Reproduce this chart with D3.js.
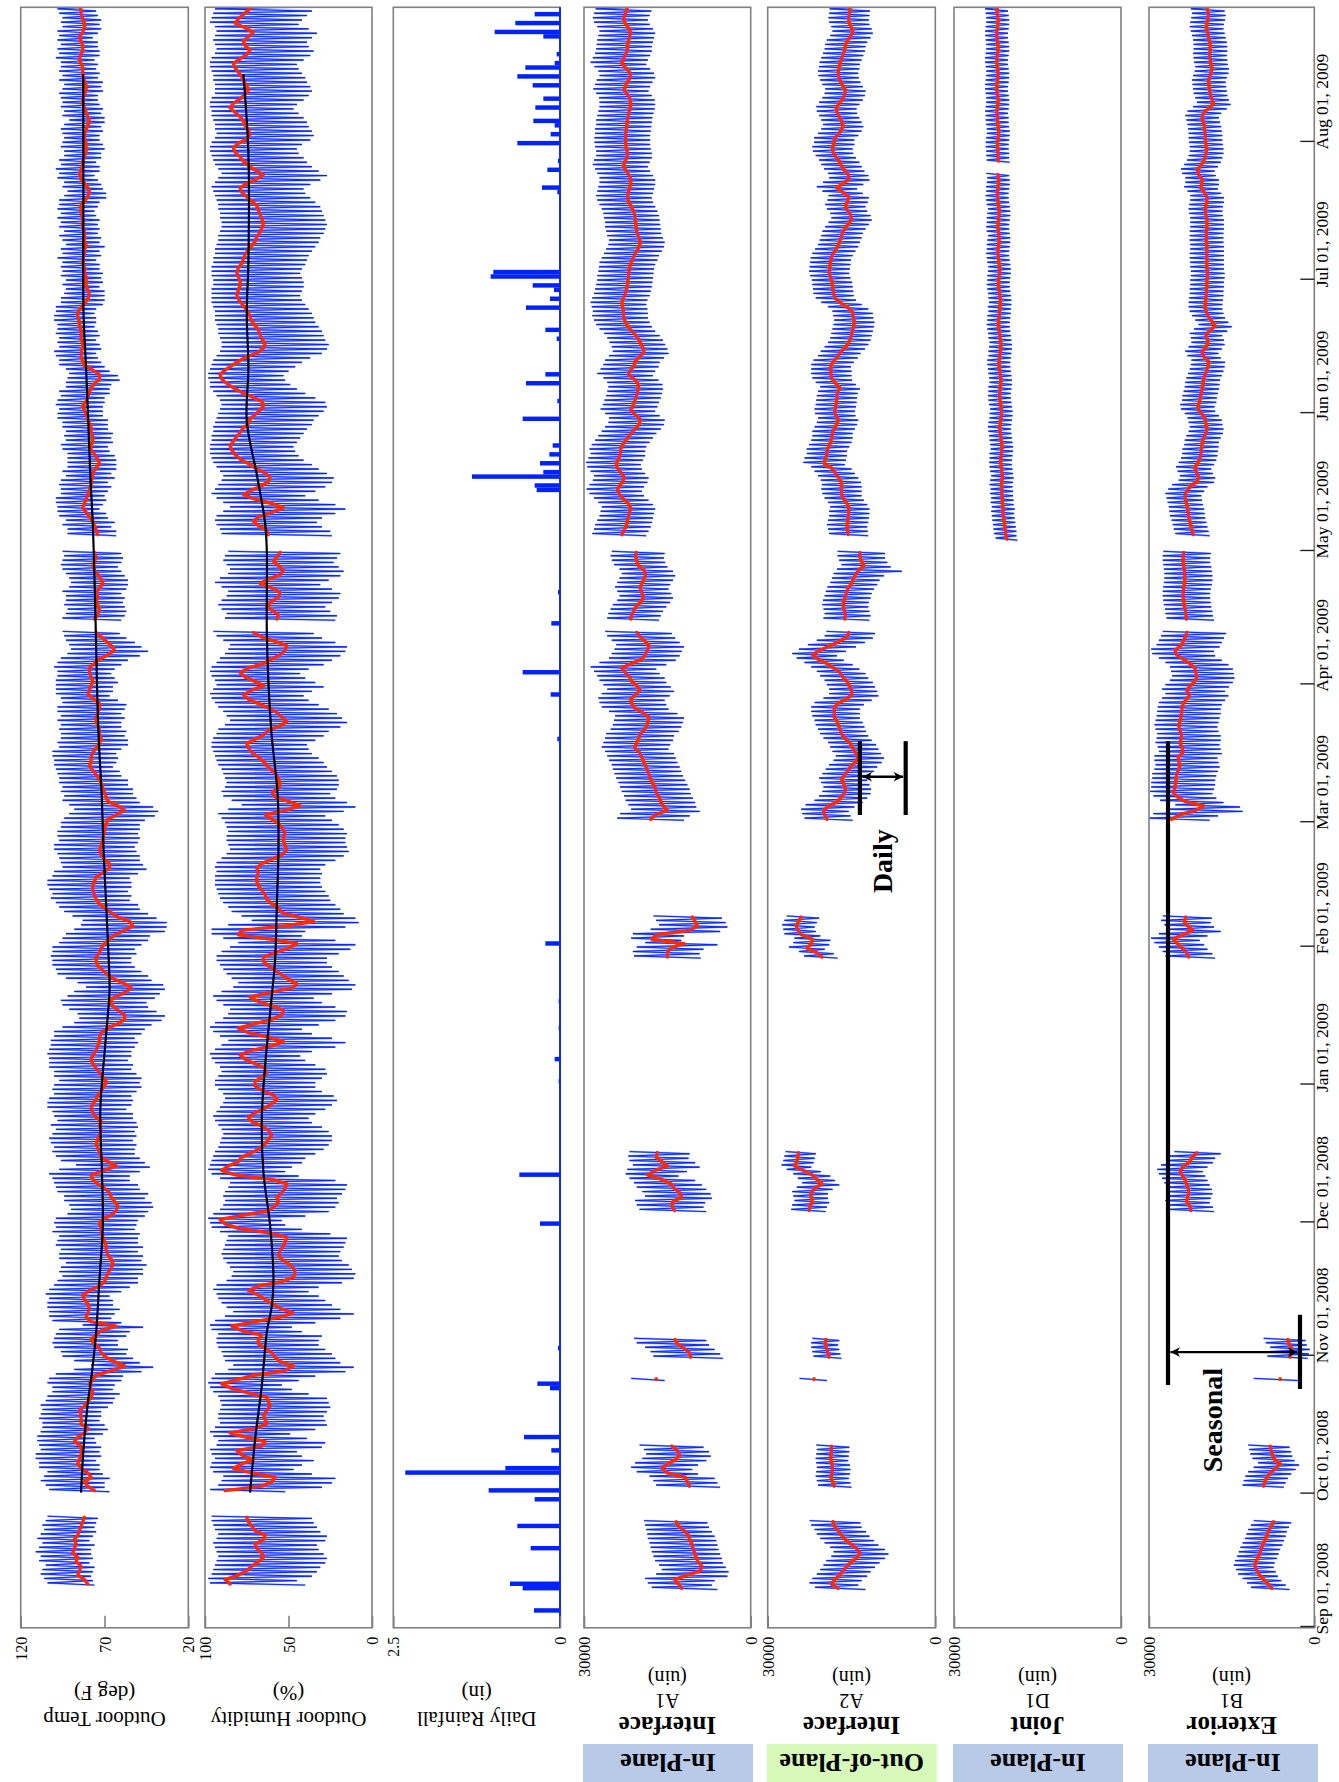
<!DOCTYPE html>
<html>
<head>
<meta charset="utf-8">
<script src="https://cdn.jsdelivr.net/npm/d3@7"></script>
<style>
  body { margin: 0; background: #fff; }
  svg text { font-family: "Liberation Serif", "Times New Roman", serif; fill: #000; }
</style>
</head>
<body>
<svg id="chart" width="1339" height="1782"></svg>
<script>
// day index 0 = Sep 01, 2008. Each segment starts at the day given in *Start.

// ---- Outdoor temperature (deg F): daily mean, daily high, daily low ----
const tempStart = [9, 30, 226, 245];
const tempAvg = [
  [80,82,86,85,84,87,86,89,88,87,88,86,85,84,83,82],
  [76,80,82,78,80,84,86,85,84,84, 84,88,86,82,80,84,84,84,85,82, 80,78,77,78,79,77,75,66,58,64,
   69,72,73,76,78,75,72,63,78,81, 80,79,80,82,83,79,73,70,69,68, 66,65,66,68,69,69,70,71,72,72,
   73,71,66,63,62,64,66,67,70,74, 77,78,70,63,68,72,73,74,75,74, 73,72,73,72,75,77,78,77,75,74,
   72,70,69,71,73,75,77,78,77,75, 74,73,73,72,68,62,58,58,62,65, 67,64,58,54,58,64,68,71,74,75,
   75,73,72,70,67,64,58,53,55,62, 66,70,73,75,76,77,77,76,75,71, 67,67,70,72,73,72,71,71,70,70,
   69,68,63,58,62,68,69,70,71,72, 73,75,77,79,78,78,77,75,73,72, 73,73,74,75,75,74,73,73,76,80,
   79,78,77,78,79,79,76,73,68,64, 66,69,72,75],
  [76,74,73,74,75,74,75,73,71,72,74,76,77,76,75,76],
  [74,75,76,77,79,81,83,82,81,80, 79,78,78,77,77,75,73,74,76,78, 78,77,77,78,78,79,80,81,82,83,
   81,80,79,78,76,73,73,77,82,83, 84,84,83,83,84,84,84,85,85,86, 86,84,82,80,79,80,81,81,81,82,
   82,83,83,82,82,81,82,82,82,83, 83,83,84,84,84,82,80,79,80,82, 84,85,84,83,83,82,81,81,81,82,
   82,81,80,79,80,81,82,83,83,82, 81,81,82,83,83,83,84,85,84,83, 83,84,85,83,82,82,83,84,84,85]
];
const tempHi = [
  [104,106,108,107,105,109,108,111,109,107,110,108,106,107,105,104],
  [103,105,108,106,104,109,109,111,111,108, 109,110,110,108,107,107,109,108,107,108, 105,104,101,101,104,103,99,88,78,88,
   95,96,100,101,100,99,97,83,101,103, 103,104,104,103,105,103,100,98,95,97, 96,93,97,97,96,99,98,97,101,99,
   100,99,92,90,91,94,94,98,99,100, 101,103,97,87,96,99,101,100,102,103, 101,99,102,98,100,101,104,104,103,100,
   101,100,97,100,100,103,103,103,104,103, 102,102,100,100,95,88,85,86,91,95, 96,92,88,81,86,93,98,99,101,101,
   102,101,101,97,95,93,88,84,83,89, 94,97,99,102,101,103,104,104,101,100, 95,96,97,98,100,100,97,98,98,96,
   96,94,91,88,91,95,94,96,95,97, 97,98,99,100,100,101,101,97,98,96, 96,97,96,98,96,98,98,95,96,99,
   99,99,99,98,98,100,98,96,92,90, 91,93,94,95],
  [95,93,92,94,93,93,95,91,90,91,93,95,96,95,94,95],
  [92,92,95,93,97,98,98,99,99,96, 96,97,96,93,95,92,92,92,92,95, 96,93,94,93,95,95,98,98,97,99,
   98,96,97,93,93,92,91,93,97,97, 99,100,97,98,97,99,98,98,100,100, 99,99,96,96,94,93,95,93,96,95,
   96,95,98,95,96,93,95,97,94,97, 96,98,96,98,97,97,94,92,95,94, 98,97,99,96,97,94,94,96,95,94,
   95,96,94,91,95,94,96,95,96,97, 95,94,97,95,97,96,96,99,97,98, 96,98,97,98,95,96,95,97,98,97]
];
const tempLo = [
  [76,77,78,77,76,79,77,78,78,76,79,77,75,76,75,74],
  [67,70,70,67,71,73,73,75,72,73, 72,75,76,71,68,70,73,72,72,68, 65,64,61,65,64,60,59,48,41,49,
   53,57,56,62,62,57,55,47,60,66, 64,61,65,65,67,60,55,50,50,47, 47,45,48,47,50,47,50,50,49,52,
   51,50,46,44,41,42,46,44,49,50, 55,55,49,43,46,49,52,52,51,53, 51,52,50,51,53,53,57,54,53,54,
   51,48,49,48,51,54,53,56,54,54, 52,50,52,48,46,42,36,34,39,44, 45,40,37,34,35,42,44,48,52,54,
   54,51,52,48,44,43,34,33,33,39, 44,49,50,55,54,56,54,54,55,50, 45,47,49,49,51,52,50,49,50,49,
   49,46,40,38,41,49,51,53,53,56, 56,60,61,65,63,62,63,60,56,56, 58,57,60,60,58,60,58,57,62,67,
   65,65,62,64,66,64,60,56,49,44, 48,52,57,61],
  [60,58,57,58,59,58,60,57,56,56,58,60,62,60,59,60],
  [63,63,66,64,68,69,73,71,69,70, 68,66,68,64,66,63,63,63,64,67, 68,65,66,65,68,68,68,71,71,71,
   70,70,67,67,66,61,62,67,70,72, 74,75,72,73,75,73,74,76,75,75, 76,75,71,70,70,70,73,71,72,71,
   73,73,75,72,73,70,73,72,74,73, 74,73,75,76,74,73,69,69,71,72, 74,76,73,73,75,72,72,70,71,73,
   73,71,72,70,70,72,71,73,74,74, 71,72,71,74,73,75,74,76,73,73, 74,74,77,74,72,73,72,74,75,75]
];
const tempTrendDay = [30,40,50,57,66,78,90,102,116,131,143,150,162,174,187,200,212,224,236,248,259,271,283,295,322,349];
const tempTrend = [84,82.5,80,77.5,75,73,71,71.5,72.5,69.5,67,67.5,69,70.5,71.7,73.5,74.5,75.2,76,77,78.5,79.7,81,82.5,82.6,82.7];
const tempTicks = [120, 70, 20];
const tempTitle = ["Outdoor Temp", "(deg F)"];

// ---- Outdoor humidity (%) ----
const humStart = [9, 30, 226, 245];
const humAvg = [
  [85,88,80,75,72,68,65,66,69,70,65,64,70,72,74,75],
  [88,66,60,58,72,83,78,71,78,81, 66,64,75,85,70,63,64,65,63,61, 62,63,74,84,90,80,70,52,47,55,
   58,60,64,68,68,66,78,84,70,55, 47,55,60,64,68,74,68,54,47,46, 47,50,54,56,55,53,52,51,62,80,
   88,91,76,62,58,56,57,54,52,51, 60,82,90,86,80,78,72,67,64,62, 60,62,66,72,74,70,64,60,57,59,
   66,70,70,66,63,64,70,76,79,72, 60,53,62,74,80,70,60,54,53,60, 68,73,62,48,45,50,54,58,62,65,
   65,58,50,45,60,80,78,52,35,44, 54,56,60,63,64,66,68,69,69,68, 69,66,60,54,51,52,53,53,52,54,
   56,60,64,52,43,50,58,60,56,55, 56,57,60,63,65,68,72,74,75,70, 65,62,55,51,54,57,62,68,74,77,
   72,65,70,76,79,74,65,60,55,52, 51,58,66,71],
  [57,56,60,63,60,56,55,60,67,62,55,53,56,59,57,55],
  [62,63,68,71,68,60,53,60,70,77, 72,66,62,61,65,70,74,79,82,84, 85,83,81,79,77,74,73,70,67,65,
   66,72,78,83,87,90,91,88,84,80, 75,68,65,64,66,67,68,70,72,73, 74,76,78,80,81,80,79,79,80,81,
   80,78,77,76,74,72,70,69,67,66, 65,66,67,68,69,72,75,78,79,75, 69,65,70,74,77,79,82,83,80,75,
   73,74,76,77,79,82,85,83,79,76, 74,75,77,78,80,82,83,79,75,73, 76,77,74,71,76,82,80,77,74,71]
];
const humHi = [
  [97,98,96,95,94,93,92,93,94,95,93,92,94,95,96,96],
  [97,92,90,89,95,97,96,94,96,97, 93,92,95,97,94,91,92,92,91,90, 91,92,95,97,98,96,94,86,83,88,
   89,90,92,93,93,92,96,97,94,88, 83,87,90,92,93,95,93,87,84,83, 85,87,89,90,89,88,87,86,91,96,
   97,98,95,91,89,88,89,88,86,85, 91,96,98,97,96,95,94,92,91,90, 89,90,92,94,95,93,91,89,88,89,
   92,94,94,92,90,91,94,96,97,94, 90,86,91,95,97,94,89,86,85,89, 93,95,90,83,80,84,87,89,91,93,
   93,90,85,80,89,96,96,86,72,78, 84,86,89,91,92,93,94,94,94,93, 94,93,90,87,85,86,87,87,86,87,
   88,90,92,86,78,84,89,90,88,87, 88,89,90,92,93,94,95,96,96,95, 93,92,88,85,87,89,92,94,96,97,
   95,93,94,96,97,96,93,91,88,86, 85,89,93,95],
  [88,87,90,92,90,87,86,90,94,91,86,85,87,89,88,86],
  [90,91,93,94,93,89,85,89,93,96, 94,92,90,89,91,93,95,96,97,97, 97,96,96,95,95,94,93,92,91,90,
   91,93,95,97,97,98,98,97,96,95, 93,91,90,90,91,92,92,93,94,94, 94,95,96,96,96,96,95,95,96,96,
   96,95,95,94,94,93,92,92,91,90, 90,91,91,92,92,93,94,95,96,94, 92,90,92,94,95,96,97,97,96,94,
   93,94,94,95,96,96,97,97,96,94, 94,94,95,95,96,97,97,96,94,93, 94,95,94,93,94,97,96,95,94,93]
];
const humLo = [
  [40,45,36,33,31,28,27,29,32,33,28,27,31,33,35,36],
  [52,30,24,22,36,47,42,35,42,45, 30,28,39,49,34,27,28,29,27,25, 26,27,38,48,54,44,34,16,11,19,
   22,24,28,32,32,30,42,48,34,19, 11,19,24,28,32,38,32,18,11,10, 12,14,18,20,19,17,16,15,25,42,
   52,54,40,26,22,20,21,18,16,15, 22,44,52,48,42,40,34,29,26,24, 24,26,30,36,38,34,28,24,21,23,
   30,34,34,30,27,28,34,40,43,36, 22,16,24,36,42,32,22,16,15,22, 30,35,24,12,10,14,17,20,24,27,
   27,20,13,10,22,42,40,16,8,10, 17,19,22,25,26,28,30,31,31,30, 31,28,22,17,14,15,16,16,15,17,
   20,24,28,17,10,15,22,25,21,20, 20,21,24,27,29,32,36,38,39,34, 29,26,19,15,18,21,26,32,38,41,
   36,29,34,40,43,38,29,24,19,16, 15,22,30,35],
  [22,21,25,28,24,20,19,24,31,26,19,17,20,23,21,19],
  [24,25,30,33,30,22,16,22,32,40, 34,28,24,23,27,32,36,41,44,46, 47,45,43,41,39,36,35,32,29,27,
   28,34,40,45,49,52,53,50,46,42, 37,30,27,26,28,29,30,32,34,35, 36,38,40,42,43,42,41,41,42,43,
   42,40,39,38,36,34,32,31,29,28, 27,28,29,30,31,34,37,40,41,37, 31,27,32,36,39,41,44,45,42,37,
   35,36,38,39,41,44,47,45,41,38, 36,37,39,40,42,44,45,41,37,35, 38,39,36,33,38,44,42,39,36,33]
];
const humTrendDay = [30,42,54,66,72,78,90,102,114,126,138,150,162,175,187,200,212,224,242,248,259,271,283,295,307,331,349];
const humTrend = [73,70,66,63,60,59,61,65,66,64,61,58,57,56,56.5,60,62,63,63,64,69,75,74,75,74,74,77];
const humTicks = [100, 50, 0];
const humTitle = ["Outdoor Humidity", "(%)"];

// ---- Daily rainfall (in) ----
const rainDay = [3,8,9,17,22,28,30,34,35,39,42,53,54,62,90,101,122,127,134,140,153,199,209,214,225,232,
  255,256,258,259,261,263,265,271,275,279,281,289,291,296,298,300,301,303,304,322,323,327,329,333,335,
  337,338,341,343,346,348,350,351,353,357,358,360,362];
const rainIn = [0.39,0.56,0.75,0.44,0.64,0.38,1.07,2.32,0.82,0.13,0.54,0.15,0.34,0.03,0.30,0.61,0.02,0.08,0.02,0.02,0.22,0.04,0.14,0.56,0.13,0.03,
  0.35,0.38,1.32,0.25,0.30,0.16,0.11,0.56,0.04,0.51,0.22,0.05,0.22,0.51,0.15,0.09,0.41,1.04,1.00,0.04,0.27,0.19,0.03,0.64,0.14,
  0.08,0.40,0.37,0.25,0.41,0.64,0.52,0.08,0.05,0.25,0.98,0.67,0.38];
const rainTicks = [2.5, 0];
const rainTitle = ["Daily Rainfall", "(in)"];

// ---- Strain gauges, values in hundreds of micro-inches ----
const strainStart = [8, 31, 55, 60, 93, 150, 181, 226, 245];
const strainTicks = [30000, 0];

const a1Avg = [
  [124,130,137,115,90,88,95,98,101,104,106,110,112,120,130,134],
  [110,114,118,150,160,150,135,128,132,142],
  [170],
  [108,110,120,132,136],
  [137,142,140,124,128,138,144,160,186,172,150,160,170,168],
  [150,150,144,120,178,170,110,96,100,105],
  [180,172,150,158,162,165,170,172,176,180, 183,186,189,193,196,200,209,206,202,200,
   192,187,185,183,195,209,214,216,208,199, 205,214,218,226,232,215,196,190,186,183, 190,199,205],
  [216,214,210,205,197,193,196,199,196,192,189,192,202,205,207,206],
  [232,228,224,222,220,218,216,220,229,236, 240,236,230,228,234,240,242,238,235,234, 232,226,220,214,206,200,199,208,216,212,
   209,206,204,202,203,210,220,216,210,208, 200,192,194,198,202,208,216,222,226,229, 229,230,232,230,226,224,222,221,220,219,
   218,216,212,209,204,200,199,202,205,206, 207,208,209,212,216,220,222,220,218,216, 216,220,225,229,226,222,222,224,225,225,
   225,224,223,222,221,219,217,216,217,222, 228,225,221,216,218,225,232,229,225,222, 222,220,218,216,220,226,229,226,223,222]
];
const a1Max = [
  [178,185,190,170,160,165,172,175,178,180,182,185,186,188,190,192],
  [170,175,182,205,215,208,195,188,192,200],
  [215],
  [175,180,190,205,210],
  [200,205,208,190,195,205,210,218,225,222,212,218,220,218],
  [210,212,205,190,215,212,180,165,170,175],
  [240,235,215,220,225,228,232,235,238,242, 245,248,250,255,258,262,268,265,262,260,
   252,248,246,244,255,268,272,274,268,258, 265,272,276,282,288,272,255,250,245,242, 250,258,262],
  [258,256,252,248,240,236,240,244,240,236,232,236,246,250,252,250],
  [285,282,280,276,272,270,268,274,282,290, 295,290,284,282,288,294,296,292,288,290, 286,280,274,268,262,256,255,262,270,266,
   263,260,258,256,258,265,276,270,265,262, 255,248,250,254,258,264,272,278,282,285, 284,286,288,285,282,280,278,276,276,274,
   273,272,268,264,260,256,255,258,260,262, 262,264,265,268,272,276,278,276,274,272, 272,276,280,284,282,278,278,280,281,281,
   280,280,278,278,276,274,272,272,273,278, 283,280,277,272,274,281,288,284,280,278, 277,276,274,272,276,282,284,282,279,278]
];
const a1Min = [
  [60,70,65,42,40,45,50,52,55,58,60,62,65,70,75,78],
  [55,60,65,95,105,95,80,72,75,85],
  [155],
  [50,55,65,75,80],
  [80,85,82,70,72,80,88,100,130,115,92,100,112,110],
  [90,92,85,60,125,120,55,42,45,52],
  [120,110,92,98,100,104,108,110,114,118, 122,125,128,132,135,138,148,145,140,138,
   130,125,122,120,132,148,152,155,146,138, 144,152,155,164,170,152,135,128,124,120, 128,136,142],
  [165,162,158,152,145,140,143,148,145,140,136,140,150,154,156,155],
  [188,184,180,178,176,174,172,176,184,192, 196,192,186,184,190,196,198,194,190,190, 188,182,176,170,162,156,155,164,172,168,
   165,162,160,158,159,166,176,172,166,164, 156,148,150,154,158,164,172,178,182,185, 185,186,188,186,182,180,178,177,176,175,
   174,172,168,165,160,156,155,158,161,162, 163,164,165,168,172,176,178,176,174,172, 172,176,181,185,182,178,178,180,181,181,
   181,180,179,178,177,175,173,172,173,178, 184,181,177,172,174,181,188,185,181,178, 178,176,174,172,176,182,185,182,179,178]
];
const a1Title = ["Interface", "A1", "(uin)"];

const a2Avg = [
  [174,186,180,171,165,158,150,140,135,141,152,161,168,174,181,183],
  [181,184,187,185,184,185,187,187,186,186],
  [217],
  [190,192,195,197,196],
  [226,224,220,222,223,215,203,212,220,236,252,248,246,245],
  [203,212,230,222,220,239,246,249,245,240],
  [194,198,200,190,175,168,162,161,164,168, 162,156,150,142,138,143,148,152,160,167,
   170,173,176,181,181,181,175,160,149,150, 154,158,166,171,182,194,210,220,206,188, 172,158,155],
  [162,161,163,165,164,161,159,156,150,147,143,137,128,132,135,135],
  [156,157,158,157,156,155,155,158,164,168, 168,168,169,174,180,186,199,197,194,194, 190,187,185,184,180,176,174,179,180,178,
   177,176,175,171,178,185,187,187,187,182, 175,170,162,156,152,150,148,146,145,147, 148,156,168,178,182,183,184,185,188,190,
   189,188,187,184,179,174,171,168,166,161, 155,150,152,158,161,157,155,166,176,165, 154,156,163,168,172,178,183,184,181,181,
   174,168,165,168,172,176,177,172,166,162, 161,166,170,173,174,172,171,168,165,162, 161,158,152,148,150,154,155,154,153,152]
];
const a2Max = [
  [215,225,220,212,206,200,195,186,182,188,198,206,212,216,222,225],
  [210,212,214,213,212,213,214,213,212,213],
  [243],
  [218,220,222,222,220],
  [258,256,252,254,256,248,238,246,254,266,275,272,270,268],
  [235,244,262,254,252,270,272,274,270,266],
  [234,238,240,232,216,208,202,200,204,208, 202,196,190,182,178,184,188,192,200,206,
   210,214,216,220,222,222,216,200,190,190, 194,198,206,212,222,234,248,256,244,228, 212,198,195],
  [200,198,200,202,201,198,196,193,188,185,182,176,168,172,175,175],
  [190,192,194,192,190,190,188,192,198,202, 204,203,205,210,216,222,236,234,230,230, 226,222,220,220,216,212,210,215,216,214,
   213,212,210,206,214,220,222,222,222,218, 210,205,198,192,188,186,184,182,181,183, 184,192,204,214,218,219,220,221,224,226,
   225,224,223,220,215,210,207,204,202,197, 191,186,188,194,197,193,191,202,212,201, 190,192,199,204,208,214,219,220,217,217,
   210,204,201,204,208,212,213,208,202,198, 197,202,206,209,210,208,207,204,201,198, 197,194,188,184,186,190,191,190,189,188]
];
const a2Min = [
  [125,138,132,122,116,108,100,90,84,90,102,110,118,124,132,134],
  [150,152,155,153,152,153,156,155,154,154],
  [194],
  [168,170,172,174,172],
  [196,194,190,192,192,184,172,180,188,205,222,218,216,214],
  [175,182,198,190,188,206,214,216,212,208],
  [148,152,155,145,130,122,116,115,118,122, 116,110,104,96,92,97,102,106,114,120,
   124,127,130,135,135,135,128,114,102,104, 108,112,120,125,136,148,164,176,160,142, 126,112,108],
  [118,116,118,120,119,116,114,110,104,100,92,60,80,86,90,90],
  [120,121,122,120,119,118,118,122,128,132, 132,132,133,138,144,150,162,160,158,158, 154,150,148,148,144,140,138,143,144,142,
   141,140,139,135,142,149,150,150,151,146, 139,134,126,120,116,114,112,110,109,111, 112,120,132,142,146,147,148,149,152,154,
   153,152,151,148,143,138,135,132,130,125, 119,114,116,122,125,121,119,130,140,129, 118,120,127,132,136,142,147,148,145,145,
   138,132,129,132,136,140,141,136,130,126, 125,130,134,137,138,136,135,132,129,126, 125,122,116,112,114,118,119,118,117,116]
];
const a2Title = ["Interface", "A2", "(uin)"];

const d1Start = [244, 329];
const d1Avg = [
  [205,207,208,209,210,211,212,212,213,213, 214,214,215,214,213,214,215,216,216,215, 214,214,215,216,217,218,217,216,215,215,
   216,217,218,218,217,216,216,217,218,219, 219,218,217,216,216,217,218,219,220,220, 219,218,218,217,217,218,219,220,220,219,
   218,218,219,220,221,221,220,219,219,220, 221,221,220,219,219,220,221,222,222,221, 220,220,221],
  [220,221,221,222,222,221,220,220,221,222, 222,223,222,221,221,222,223,223,222,221, 221,222,223,223,222,221,221,222,223,223,
   222,221,221,222,223,222]
];
const d1Max = [
  [225,228,229,230,231,232,233,232,234,233, 235,234,236,235,233,235,236,237,236,236, 234,235,236,237,238,239,238,236,236,235,
   237,238,239,238,238,236,237,238,239,240, 240,238,238,237,236,238,239,240,241,240, 240,238,239,237,238,239,240,241,240,240,
   239,238,240,241,242,241,241,240,239,241, 242,241,241,240,239,241,242,243,242,242, 241,240,242],
  [241,242,242,243,243,242,241,241,242,243, 243,244,243,242,242,243,244,244,243,242, 242,243,244,244,243,242,242,243,244,244,
   243,242,242,243,244,243]
];
const d1Min = [
  [186,188,188,189,190,191,192,191,193,193, 194,194,195,194,193,194,195,196,196,195, 194,194,195,196,197,198,197,196,195,195,
   196,197,198,198,197,196,196,197,198,199, 199,198,197,196,196,197,198,199,200,200, 199,198,198,197,197,198,199,200,200,199,
   198,198,199,200,201,201,200,199,199,200, 201,201,200,199,199,200,201,202,202,201, 200,200,201],
  [200,201,201,202,202,201,200,200,201,202, 202,203,202,201,201,202,203,203,202,201, 201,202,203,203,202,201,201,202,203,203,
   202,201,201,202,203,202]
];
const d1Title = ["Joint", "D1", "(uin)"];

const b1Avg = [
  [77,84,92,99,104,108,106,102,99,96,93,89,86,83,78,74],
  [92,90,86,80,70,62,72,76,78,80],
  [62],
  [44,42,41,46,48],
  [224,226,232,230,228,229,232,235,240,244,236,226,222,213],
  [228,232,240,248,256,240,220,230,236,233],
  [259,244,215,201,235,248,256,253,252,251, 250,247,244,246,247,238,240,243,242,241,
   244,246,244,242,241,240,238,232,226,232, 225,217,213,215,217,226,238,250,253,242, 238,234,231],
  [232,233,234,236,237,238,238,237,236,235,235,236,237,238,238,237],
  [220,222,224,226,228,229,230,232,234,235, 230,224,212,210,214,217,212,208,206,205, 204,203,200,196,195,197,198,203,210,211,
   208,207,205,203,202,201,198,195,193,192, 200,204,198,193,194,197,188,180,186,192, 196,198,198,197,196,196,195,195,194,194,
   195,195,195,195,195,195,196,196,196,195, 195,195,197,198,197,195,195,200,206,204, 204,210,212,206,201,198,196,196,197,198,
   198,199,200,202,204,200,190,183,186,189, 190,191,192,190,187,186,188,189,190,189, 189,190,192,194,196,195,193,192,194,195]
];
const b1Max = [
  [115,122,130,138,142,146,144,140,137,134,130,126,123,120,115,110],
  [130,128,125,120,110,102,112,116,118,120],
  [110],
  [85,82,80,88,92],
  [262,264,270,268,266,268,272,276,282,285,278,268,262,254],
  [270,275,282,290,296,282,262,272,278,275],
  [300,292,262,252,280,292,298,296,296,294, 294,290,288,290,290,282,284,288,286,285,
   288,290,288,286,285,284,282,276,270,276, 270,262,258,260,262,270,282,294,296,286, 282,278,275],
  [268,270,271,273,274,275,275,274,273,272,272,273,274,275,275,274],
  [252,255,257,259,262,263,264,266,268,270, 265,258,246,244,248,251,246,242,240,239, 236,235,232,228,226,228,230,235,242,243,
   240,239,237,235,234,232,229,226,224,223, 230,234,228,223,224,226,218,210,216,222, 226,228,228,227,226,226,225,225,224,224,
   225,225,226,226,225,225,226,226,226,225, 225,225,227,228,227,225,225,230,236,234, 234,240,242,236,231,228,226,226,227,228,
   228,229,230,232,234,230,220,213,216,219, 220,221,222,220,217,216,218,219,220,219, 219,220,222,224,226,225,223,222,224,225]
];
const b1Min = [
  [45,52,60,66,70,74,72,68,65,62,58,55,52,50,46,42],
  [55,52,48,42,34,28,36,40,42,45],
  [30],
  [12,10,8,14,16],
  [182,184,190,188,185,186,190,194,198,202,194,184,180,170],
  [180,185,194,200,208,194,170,182,188,186],
  [190,175,130,135,165,178,185,182,180,180, 178,175,172,174,176,168,170,172,170,170,
   174,176,174,172,170,170,168,162,156,162, 155,148,145,146,148,156,168,180,182,172, 168,164,160],
  [182,184,185,187,188,189,189,188,186,185,185,186,187,189,189,188],
  [190,192,194,196,198,199,200,202,204,205, 200,194,182,180,184,187,182,178,176,175, 174,173,170,166,165,167,168,173,180,181,
   178,177,175,173,172,171,168,165,163,162, 170,174,168,163,164,167,158,150,156,162, 165,167,167,166,165,165,164,164,163,163,
   164,164,164,164,164,164,165,165,165,164, 164,164,166,167,166,164,164,169,175,173, 173,179,181,175,170,167,165,165,166,167,
   167,168,169,171,173,169,159,152,155,158, 159,160,161,159,156,155,157,158,159,158, 158,159,161,163,165,164,162,161,163,164]
];
const b1Title = ["Exterior", "B1", "(uin)"];

const groupLabels = ["In-Plane", "Out-of-Plane", "In-Plane", "In-Plane"];

// annotations, in data units: [day index, strain in micro-inches]
const seasonalBars = [[[54.2, 26550], [199, 26550]], [[53.3, 2600], [70, 2600]]];
const seasonalArrow = [[61.6, 26100], [61.6, 3050]];
const seasonalLabel = [46.3, 16700, "Seasonal"];
const dailyBars = [[[182.4, 13500], [199, 13500]], [[182.4, 5300], [199, 5300]]];
const dailyArrow = [[191, 13050], [191, 5750]];
const dailyLabel = [172, 7800, "Daily"];

// ---------------------------------------------------------------
const svg = d3.select("#chart");
const T0 = new Date(2008, 8, 1), T1 = new Date(2009, 7, 31);
const PT = 7.3, PB = 1627.8;
const time = d3.scaleTime().domain([T0, T1]).range([1626, 7.5]);
const dayY = d => time(new Date(T0.getTime() + d * 864e5));

const BLUE = "#0022ff", RED = "#ff2a00", GRID = "#808080";

const panels = [
  {x0: 20.7, x1: 188.3, dom: [20, 120], ticks: tempTicks, title: tempTitle, start: tempStart, avg: tempAvg, hi: tempHi, lo: tempLo, k: 1, trend: [tempTrendDay, tempTrend]},
  {x0: 205, x1: 372, dom: [0, 100], ticks: humTicks, title: humTitle, start: humStart, avg: humAvg, hi: humHi, lo: humLo, k: 1, trend: [humTrendDay, humTrend]},
  {x0: 393.3, x1: 560, dom: [0, 2.5], ticks: rainTicks, title: rainTitle, rain: true},
  {x0: 584, x1: 750.7, dom: [0, 30000], ticks: strainTicks, title: a1Title, start: strainStart, avg: a1Avg, hi: a1Max, lo: a1Min, k: 100, group: 0},
  {x0: 767.7, x1: 935.3, dom: [0, 30000], ticks: strainTicks, title: a2Title, start: strainStart, avg: a2Avg, hi: a2Max, lo: a2Min, k: 100, group: 1},
  {x0: 954, x1: 1121, dom: [0, 30000], ticks: strainTicks, title: d1Title, start: d1Start, avg: d1Avg, hi: d1Max, lo: d1Min, k: 100, group: 2},
  {x0: 1149, x1: 1314.3, dom: [0, 30000], ticks: strainTicks, title: b1Title, start: strainStart, avg: b1Avg, hi: b1Max, lo: b1Min, k: 100, group: 3}
];

const defs = svg.append("defs");
defs.append("marker").attr("id", "ah")
  .attr("viewBox", "0 0 10 10").attr("refX", 10).attr("refY", 5)
  .attr("markerWidth", 4.5).attr("markerHeight", 4).attr("markerUnits", "strokeWidth")
  .attr("orient", "auto-start-reverse")
  .append("path").attr("d", "M0,0L10,5L0,10L3,5z").attr("fill", "#000");

function flipText(g, x, y, str, size, bold) {
  g.append("text")
    .attr("transform", `translate(${x},${y}) rotate(180)`)
    .attr("text-anchor", "middle").attr("dy", "0.35em")
    .attr("font-size", size).attr("font-weight", bold ? "bold" : null)
    .text(str);
}

panels.forEach((p, pi) => {
  const x = d3.scaleLinear().domain(p.dom).range([p.x1, p.x0]);
  p.x = x;
  const g = svg.append("g");
  defs.append("clipPath").attr("id", "clip" + pi)
    .append("rect").attr("x", p.x0).attr("y", PT).attr("width", p.x1 - p.x0).attr("height", PB - PT);
  const plot = g.append("g").attr("clip-path", `url(#clip${pi})`);

  if (p.rain) {
    plot.selectAll("rect").data(rainDay.map((d, i) => [d, rainIn[i]])).join("rect")
      .attr("x", d => x(d[1])).attr("width", d => x(0) - x(d[1]))
      .attr("y", d => dayY(d[0] + 1)).attr("height", d => dayY(d[0]) - dayY(d[0] + 1))
      .attr("fill", BLUE);
  } else {
    const line = d3.line().x(d => x(d[1] * p.k)).y(d => dayY(d[0]));
    p.start.forEach((s, j) => {
      const hi = p.hi[j], lo = p.lo[j], avg = p.avg[j];
      const zig = [];
      for (let i = 0; i < Math.min(hi.length, lo.length); i++) {
        zig.push([s + i + 0.2, lo[i]], [s + i + 0.7, hi[i]]);
      }
      // soft under-stroke, then the sharp hourly trace on top
      plot.append("path").datum(zig).attr("d", line)
        .attr("fill", "none").attr("stroke", "#95a4ff").attr("stroke-width", 1.9);
      plot.append("path").datum(zig).attr("d", line)
        .attr("fill", "none").attr("stroke", BLUE).attr("stroke-width", 0.95);
      const mid = avg.map((v, i) => [s + i + 0.45, v]);
      if (mid.length === 1) mid.push([s + 0.6, avg[0]]);
      plot.append("path").datum(mid).attr("d", line)
        .attr("fill", "none").attr("stroke", RED).attr("stroke-width", 3.4)
        .attr("stroke-linejoin", "round").attr("stroke-linecap", "round");
    });
    if (p.trend) {
      const tr = p.trend[0].map((d, i) => [d, p.trend[1][i]]);
      plot.append("path").datum(tr)
        .attr("d", d3.line().x(d => x(d[1])).y(d => dayY(d[0])).curve(d3.curveCatmullRom.alpha(0.5)))
        .attr("fill", "none").attr("stroke", "#000").attr("stroke-width", 2.2);
    }
  }

  g.append("rect").attr("x", p.x0).attr("y", PT).attr("width", p.x1 - p.x0).attr("height", PB - PT)
    .attr("fill", "none").attr("stroke", GRID).attr("stroke-width", 1.6);
  if (p.rain) {
    g.append("line").attr("x1", x(0)).attr("x2", x(0)).attr("y1", PT).attr("y2", PB)
      .attr("stroke", BLUE).attr("stroke-width", 1.8);
  }

  // value axis along the bottom edge
  const ax = g.append("g").attr("transform", `translate(0,${PB})`)
    .call(d3.axisBottom(x).tickValues(p.ticks).tickSizeInner(-12).tickSizeOuter(0).tickFormat(d => String(d)));
  ax.select(".domain").remove();
  ax.selectAll("line").attr("stroke", GRID).attr("stroke-width", 1.6);
  ax.selectAll("text")
    .attr("transform", "rotate(-90)").attr("text-anchor", "end")
    .attr("x", -9).attr("y", 0).attr("dy", "0.35em")
    .attr("font-size", 16).attr("font-family", "Liberation Serif").attr("fill", "#000");

  const cx = (p.x0 + p.x1) / 2;
  if (p.title.length === 2) {
    flipText(g, cx, 1719, p.title[0], 21, false);
    flipText(g, cx, 1693, p.title[1], 21, false);
  } else {
    flipText(g, cx, 1726, p.title[0], 25, true);
    flipText(g, cx, 1701, p.title[1], 20, false);
    flipText(g, cx, 1678, p.title[2], 20, false);
  }

  if (p.group !== undefined) {
    const lab = groupLabels[p.group];
    g.append("rect").attr("x", p.x0 - 1).attr("y", 1744).attr("width", 170).attr("height", 38)
      .attr("fill", lab === "In-Plane" ? "#b9cae8" : "#d6f8b8");
    flipText(g, p.x0 + 84, 1763, lab, 26, true);
  }
});

// time axis on the right of the last panel
const b1 = panels[6];
const tax = svg.append("g").attr("transform", `translate(${b1.x1},0)`)
  .call(d3.axisRight(time).ticks(d3.timeMonth.every(1)).tickFormat(d3.timeFormat("%b %d, %Y"))
    .tickSizeInner(-14).tickSizeOuter(0));
tax.select(".domain").remove();
tax.selectAll("line").attr("stroke", "#222").attr("stroke-width", 1.4);
tax.selectAll("text")
  .attr("transform", "rotate(-90)").attr("text-anchor", "start")
  .attr("x", -8).attr("y", 14).attr("dy", 0)
  .attr("font-size", 17.5).attr("font-family", "Liberation Serif").attr("fill", "#000");

// annotations
function annotate(p, bars, arrow, label) {
  const a = svg.append("g");
  bars.forEach(b => a.append("line")
    .attr("x1", p.x(b[0][1])).attr("x2", p.x(b[1][1]))
    .attr("y1", dayY(b[0][0])).attr("y2", dayY(b[1][0]))
    .attr("stroke", "#000").attr("stroke-width", 4.2));
  a.append("line")
    .attr("x1", p.x(arrow[0][1])).attr("x2", p.x(arrow[1][1]))
    .attr("y1", dayY(arrow[0][0])).attr("y2", dayY(arrow[1][0]))
    .attr("stroke", "#000").attr("stroke-width", 2.4)
    .attr("marker-start", "url(#ah)").attr("marker-end", "url(#ah)");
  a.append("text")
    .attr("transform", `translate(${p.x(label[1])},${dayY(label[0])}) rotate(-90)`)
    .attr("text-anchor", "middle").attr("font-size", 28).attr("font-weight", "bold")
    .text(label[2]);
}
annotate(panels[6], seasonalBars, seasonalArrow, seasonalLabel);
annotate(panels[4], dailyBars, dailyArrow, dailyLabel);
</script>
</body>
</html>
